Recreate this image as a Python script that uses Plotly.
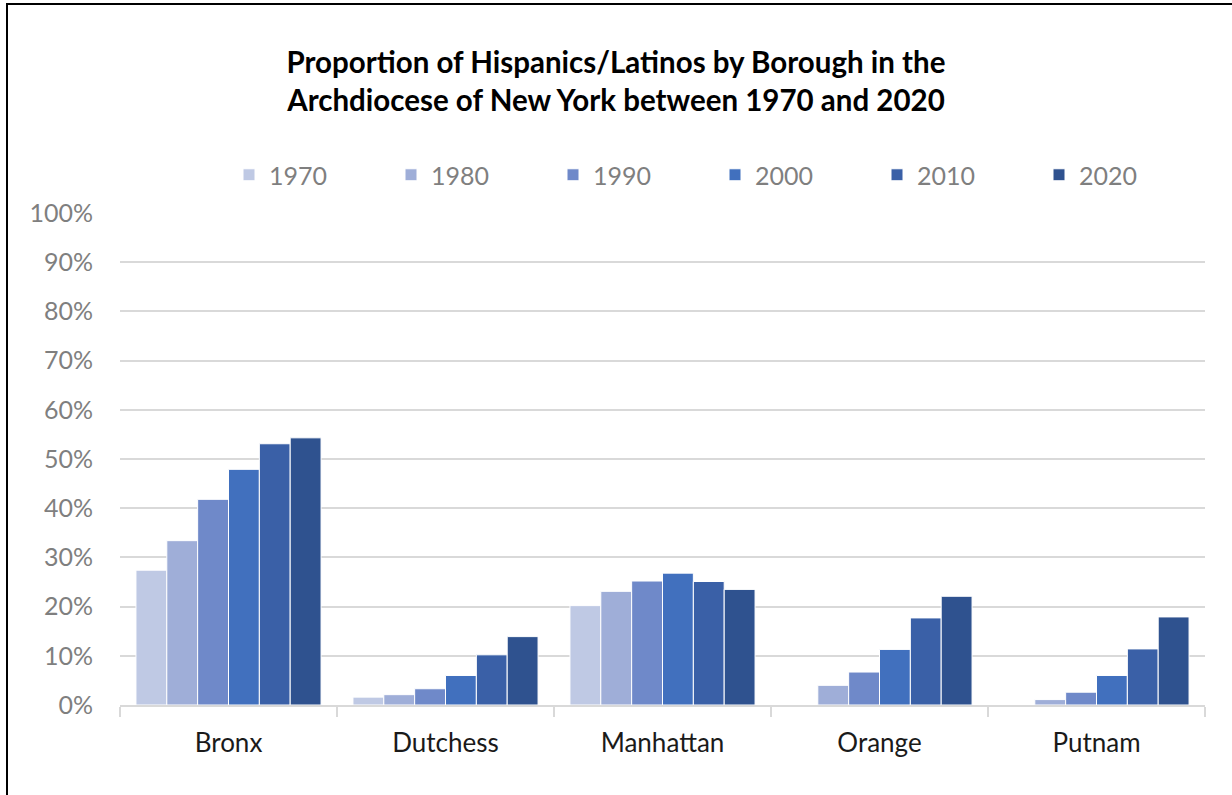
import plotly.graph_objects as go

boroughs = ["Bronx", "Dutchess", "Manhattan", "Orange", "Putnam"]
years = ["1970", "1980", "1990", "2000", "2010", "2020"]

# percent values per year (one value per borough)
v1970 = [27.4, 1.6, 20.2, None, None]
v1980 = [33.4, 2.1, 23.1, 4.0, 1.1]
v1990 = [41.8, 3.3, 25.2, 6.7, 2.6]
v2000 = [47.9, 6.0, 26.8, 11.3, 6.0]
v2010 = [53.1, 10.2, 25.1, 17.7, 11.4]
v2020 = [54.3, 13.9, 23.5, 22.1, 17.9]

series = [v1970, v1980, v1990, v2000, v2010, v2020]
colors = ["#BFC9E4", "#9FAED8", "#6F89C9", "#4170BE", "#3A60A7", "#2F528F"]

fig = go.Figure()
for yr, vals, col in zip(years, series, colors):
    fig.add_trace(go.Bar(
        x=boroughs, y=vals, name=yr,
        marker=dict(color=col, line=dict(color="white", width=1)),
    ))

L, R, T, B = 120, 27, 213, 90
W, H = 1232, 795
pw, ph = W - L - R, H - T - B

def px_x(x):
    return (x - L) / pw

def px_y(y):
    return (H - B - y) / ph

FONT = "Lato, Open Sans, sans-serif"

fig.update_layout(
    width=W, height=H,
    margin=dict(l=L, r=R, t=T, b=B),
    paper_bgcolor="white", plot_bgcolor="white",
    barmode="group", bargap=0.147, bargroupgap=0,
    font=dict(family=FONT),
    title=dict(
        text="<b>Proportion of Hispanics/Latinos by Borough in the<br>Archdiocese of New York between 1970 and 2020</b>",
        x=0.5, xanchor="center", y=1 - 73 / H, yanchor="middle",
        font=dict(size=29.5, color="black", family=FONT),
    ),
    legend=dict(
        orientation="h", x=px_x(229), xanchor="left",
        y=px_y(175), yanchor="middle",
        entrywidth=117, entrywidthmode="pixels",
        font=dict(size=25, color="#7F7F7F"),
        itemwidth=30, tracegroupgap=0,
        bgcolor="rgba(0,0,0,0)",
    ),
    xaxis=dict(
        showline=True, linecolor="#D9D9D9", linewidth=1.5,
        ticks="outside", tickson="boundaries", ticklen=10, tickcolor="#D9D9D9", tickwidth=1.5,
        tickfont=dict(size=26, color="#1A1A1A"),
        ticklabelstandoff=14,
        showgrid=False,
    ),
    yaxis=dict(
        range=[0, 100], dtick=10, ticksuffix="%",
        showgrid=True, gridcolor="#D9D9D9", gridwidth=1.5,
        zeroline=False, showline=False,
        tickfont=dict(size=25, color="#7F7F7F"),
        ticklabelstandoff=26,
    ),
    shapes=[dict(
        type="rect", xref="paper", yref="paper",
        x0=px_x(7), x1=px_x(1240), y0=px_y(810), y1=px_y(4),
        line=dict(color="black", width=2), fillcolor="rgba(0,0,0,0)", layer="below",
    )],
)

fig.write_html(
    "out.html",
    config={"displayModeBar": False},
    post_script="document.body.style.margin='0px';document.body.style.overflow='hidden';",
)
